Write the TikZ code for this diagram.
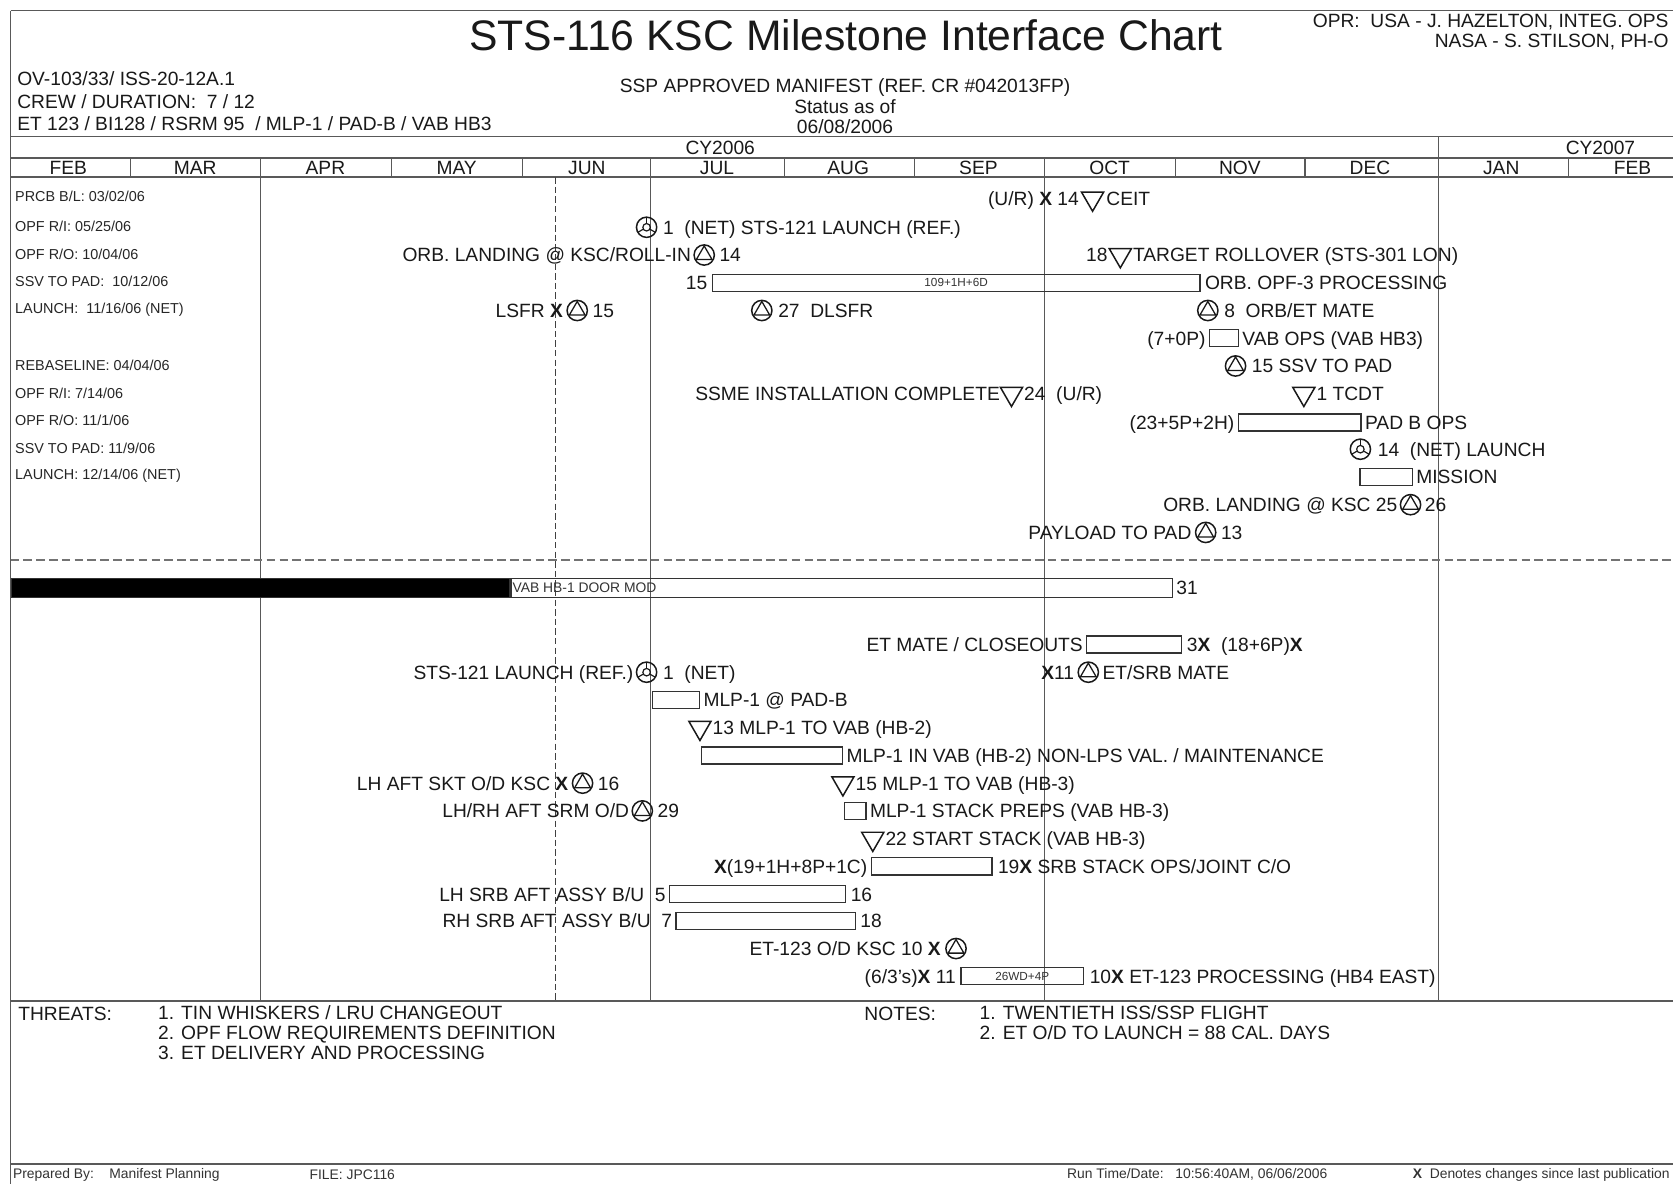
\documentclass[tikz,border=0pt]{standalone}
\usepackage{fontspec}
\setmainfont{Liberation Sans}
\usetikzlibrary{positioning,shapes.geometric}
\newcommand{\chgx}{\textbf{X}}

\begin{document}
\begin{tikzpicture}[x=1pt, y=-1pt]
\tikzset{
    LBL/.style={font=\fontsize{18}{18}\selectfont, inner sep=0pt,
                text height=13pt, text depth=0pt, text=black!90},
    SML/.style={font=\fontsize{13.5}{13.5}\selectfont, inner sep=0pt,
                anchor=west, text=black!85},
    HDR/.style={font=\fontsize{18}{19}\selectfont, inner sep=0pt, text=black!90},
    FTR/.style={font=\fontsize{13}{13}\selectfont, inner sep=0pt,
                anchor=west, text=black!80},
    TINY/.style={font=\fontsize{11}{11}\selectfont, inner sep=0pt, text=black!80},
    BAR/.style={draw=black!80, line width=1.2pt, minimum height=16pt,
                inner sep=0pt, anchor=west},
    GRD/.style={draw=black!65, line width=1.4pt},
    MS/.style={circle, draw=black!90, line width=1.4pt, minimum size=19pt,
               inner sep=0pt,
               path picture={\draw[line width=1.2pt]
                   (path picture bounding box.center) ++(0,8.5pt)
                   -- ++(-7.4pt,-12.8pt) -- ++(14.8pt,0) -- cycle;}},
    LCH/.style={circle, draw=black!90, line width=1.4pt, minimum size=19pt,
                inner sep=0pt,
                path picture={\draw[line width=1.1pt]
                   (path picture bounding box.center) circle (3.5pt);
                   \foreach \a in {90,210,330}
                     \draw[line width=1.1pt] (path picture bounding box.center)
                       ++(\a:3.5pt) -- ++(\a:6pt);}},
    TRI/.style={regular polygon, regular polygon sides=3,
                shape border rotate=180, draw=black!90, line width=1.4pt,
                minimum size=24pt, inner sep=0pt},
}

\useasboundingbox (0,0) rectangle (1568,1109);
\clip (0,0) rectangle (1568,1109);
\fill[white] (0,0) rectangle (1568,1109);

%── Frame and grid ─────────────────────────────────────────────
\draw[GRD] (10,10) -- (1590,10);
\draw[GRD] (10,10) -- (10,1120);
\draw[GRD] (10,128) -- (1590,128);
\draw[GRD] (10,148) -- (1590,148);
\draw[GRD] (10,166) -- (1590,166);
\draw[GRD] (10,938) -- (1590,938);
\draw[GRD] (10,1091) -- (1590,1091);
\foreach \m in {122,367,490,735,857,1102,1223,1470}
    \draw[GRD, line width=1.1pt] (\m,148) -- (\m,166);
\foreach \q in {244,610,979}
    \draw[GRD, line width=1.2pt] (\q,148) -- (\q,938);
\draw[GRD, line width=1.2pt] (1348,128) -- (1348,938);
\draw[black!75, line width=1.1pt, dash pattern=on 6pt off 3pt] (521,166) -- (521,938);   % status date
\draw[black!55, line width=1.3pt, dash pattern=on 8pt off 4pt] (10,525) -- (1590,525);

%── Header ─────────────────────────────────────────────────────
\node[font=\fontsize{40}{40}\selectfont, inner sep=0pt, text=black!90] (title) at (793,33)
    {STS-116 KSC Milestone Interface Chart};
\node[HDR, anchor=north east, align=right] (opr) at (1564,13)
    {OPR:\ \ USA - J. HAZELTON, INTEG. OPS\\NASA - S. STILSON, PH-O};
\node[HDR, anchor=west] (ov)   at (16,74)  {OV-103/33/ ISS-20-12A.1};
\node[HDR, anchor=west] (crew) at (16,95)  {CREW / DURATION:\ \ 7 / 12};
\node[HDR, anchor=west] (et)   at (16,116) {ET 123 / BI128 / RSRM 95\ \ / MLP-1 / PAD-B / VAB HB3};
\node[HDR] (ssp)    at (792,82)  {SSP APPROVED MANIFEST (REF. CR \#042013FP)};
\node[HDR] (status) at (792,100) {Status as of};
\node[HDR] (sdate)  at (792,119) {06/08/2006};
\node[HDR] (cy6) at (675,139)  {CY2006};
\node[HDR] (cy7) at (1500,139) {CY2007};
\foreach \mo/\x in {FEB/64,MAR/183,APR/305,MAY/428,JUN/550,JUL/672,AUG/795,
                    SEP/917,OCT/1040,NOV/1162,DEC/1284,JAN/1407,FEB/1530}
    \node[HDR] at (\x,157) {\mo};

%── Baseline dates ─────────────────────────────────────────────
\node[SML] (prcb)  at (14,184) {PRCB B/L: 03/02/06};
\node[SML] (opfri) at (14,212) {OPF R/I: 05/25/06};
\node[SML] (opfro) at (14,238) {OPF R/O: 10/04/06};
\node[SML] (ssv)   at (14,264) {SSV TO PAD:\ \ 10/12/06};
\node[SML] (lnch)  at (14,290) {LAUNCH:\ \ 11/16/06 (NET)};
\node[SML] (rebl)  at (14,342) {REBASELINE: 04/04/06};
\node[SML] (opfri2) at (14,369) {OPF R/I: 7/14/06};
\node[SML] (opfro2) at (14,394) {OPF R/O: 11/1/06};
\node[SML] (ssv2)  at (14,420) {SSV TO PAD: 11/9/06};
\node[SML] (lnch2) at (14,446) {LAUNCH: 12/14/06 (NET)};

%── Orbiter flow ───────────────────────────────────────────────
\node[TRI] (ceit) at (1024,186) {};
\node[LBL, left=5pt of ceit]  {(U/R) \chgx\ 14};
\node[LBL, right=5pt of ceit] {CEIT};

\node[LCH] (sts121) at (606,213) {};
\node[LBL, right=5pt of sts121] {1\ \ (NET) STS-121 LAUNCH (REF.)};

\node[MS] (rollin) at (660,239) {};
\node[LBL, left=2pt of rollin]  {ORB. LANDING @ KSC/ROLL-IN};
\node[LBL, right=4pt of rollin] {14};
\node[TRI] (rollover) at (1050,239) {};
\node[LBL, left=4pt of rollover]  {18};
\node[LBL, right=4pt of rollover] {TARGET ROLLOVER (STS-301 LON)};

\node[BAR, minimum width=457pt] (opf) at (667,265) {};
\node[TINY] at (opf.center) {109+1H+6D};
\node[LBL, left=4pt of opf]  {15};
\node[LBL, right=4pt of opf] {ORB. OPF-3 PROCESSING};

\node[MS] (lsfr) at (541,291) {};
\node[LBL, left=3pt of lsfr]  {LSFR \chgx};
\node[LBL, right=4pt of lsfr] {15};
\node[MS] (dlsfr) at (714,291) {};
\node[LBL, right=5pt of dlsfr] {27\ \ DLSFR};
\node[MS] (orbet) at (1132,291) {};
\node[LBL, right=5pt of orbet] {8\ \ ORB/ET MATE};

\node[BAR, minimum width=27pt] (vabops) at (1133,317) {};
\node[LBL, left=3pt of vabops]  {(7+0P)};
\node[LBL, right=3pt of vabops] {VAB OPS (VAB HB3)};

\node[MS] (ssvpad) at (1158,343) {};
\node[LBL, right=5pt of ssvpad] {15 SSV TO PAD};

\node[TRI] (ssme) at (948,369) {};
\node[LBL, left=3pt of ssme]  {SSME INSTALLATION COMPLETE};
\node[LBL, right=4pt of ssme] {24\ \ (U/R)};
\node[TRI] (tcdt) at (1222,369) {};
\node[LBL, right=4pt of tcdt] {1 TCDT};

\node[BAR, minimum width=115pt] (padops) at (1160,396) {};
\node[LBL, left=3pt of padops]  {(23+5P+2H)};
\node[LBL, right=3pt of padops] {PAD B OPS};

\node[LCH] (launch) at (1275,421) {};
\node[LBL, right=6pt of launch] {14\ \ (NET) LAUNCH};

\node[BAR, minimum width=49pt] (mission) at (1274,447) {};
\node[LBL, right=3pt of mission] {MISSION};

\node[MS] (landing) at (1322,473) {};
\node[LBL, left=2pt of landing]  {ORB. LANDING @ KSC 25};
\node[LBL, right=3pt of landing] {26};

\node[MS] (plpad) at (1130,499) {};
\node[LBL, left=3pt of plpad]  {PAYLOAD TO PAD};
\node[LBL, right=4pt of plpad] {13};

%── ET / SRB / MLP flow ────────────────────────────────────────
\node[BAR, fill=black, minimum width=467pt, minimum height=18pt] (doorblk) at (10,551) {};
\node[BAR, minimum width=620pt, minimum height=18pt] (doormod) at (doorblk.east) {};
\node[TINY, font=\fontsize{13}{13}\selectfont, anchor=west] at ([xshift=2pt]doormod.west) {VAB HB-1 DOOR MOD};
\node[LBL, right=3pt of doormod] {31};

\node[BAR, minimum width=89pt] (closeout) at (1018,604) {};
\node[LBL, left=3pt of closeout]  {ET MATE / CLOSEOUTS};
\node[LBL, right=4pt of closeout] {3\chgx\ \ (18+6P)\chgx};

\node[LCH] (sts121b) at (606,630) {};
\node[LBL, left=2pt of sts121b]  {STS-121 LAUNCH (REF.)};
\node[LBL, right=5pt of sts121b] {1\ \ (NET)};
\node[MS] (etsrb) at (1020,630) {};
\node[LBL, left=3pt of etsrb]  {\chgx 11};
\node[LBL, right=3pt of etsrb] {ET/SRB MATE};

\node[BAR, minimum width=44pt] (mlppad) at (611,656) {};
\node[LBL, right=3pt of mlppad] {MLP-1 @ PAD-B};

\node[TRI] (mlpvab2) at (656,682) {};
\node[LBL, right=4pt of mlpvab2] {13 MLP-1 TO VAB (HB-2)};

\node[BAR, minimum width=132pt] (mlpmaint) at (657,708) {};
\node[LBL, right=3pt of mlpmaint] {MLP-1 IN VAB (HB-2) NON-LPS VAL. / MAINTENANCE};

\node[MS] (sktod) at (546,734) {};
\node[LBL, left=3pt of sktod]  {LH AFT SKT O/D KSC \chgx};
\node[LBL, right=4pt of sktod] {16};
\node[TRI] (mlpvab3) at (790,734) {};
\node[LBL, right=4pt of mlpvab3] {15 MLP-1 TO VAB (HB-3)};

\node[MS] (srmod) at (602,760) {};
\node[LBL, left=2pt of srmod]  {LH/RH AFT SRM O/D};
\node[LBL, right=4pt of srmod] {29};
\node[BAR, minimum width=20pt] (stkprep) at (791,760) {};
\node[LBL, right=3pt of stkprep] {MLP-1 STACK PREPS (VAB HB-3)};

\node[TRI] (ststack) at (818,786) {};
\node[LBL, right=4pt of ststack] {22 START STACK (VAB HB-3)};

\node[BAR, minimum width=113pt] (srbops) at (816,812) {};
\node[LBL, left=3pt of srbops]  {\chgx(19+1H+8P+1C)};
\node[LBL, right=5pt of srbops] {19\chgx\ SRB STACK OPS/JOINT C/O};

\node[BAR, minimum width=165pt] (lhsrb) at (627,838) {};
\node[LBL, left=3pt of lhsrb]  {LH SRB AFT ASSY B/U\ \ 5};
\node[LBL, right=4pt of lhsrb] {16};

\node[BAR, minimum width=168pt] (rhsrb) at (633,863) {};
\node[LBL, left=3pt of rhsrb]  {RH SRB AFT ASSY B/U\ \ 7};
\node[LBL, right=4pt of rhsrb] {18};

\node[MS] (etod) at (896,889) {};
\node[LBL, left=4pt of etod] {ET-123 O/D KSC 10 \chgx};

\node[BAR, minimum width=115pt] (etproc) at (900,915) {};
\node[TINY] at (etproc.center) {26WD+4P};
\node[LBL, left=4pt of etproc]  {(6/3's)\chgx\ 11};
\node[LBL, right=5pt of etproc] {10\chgx\ ET-123 PROCESSING (HB4 EAST)};

%── Threats / notes ────────────────────────────────────────────
\node[HDR, anchor=west] (thr) at (17,950) {THREATS:};
\node[HDR, anchor=north west, align=left] (thrlist) at (148,942)
    {1. TIN WHISKERS / LRU CHANGEOUT\\2. OPF FLOW REQUIREMENTS DEFINITION\\3. ET DELIVERY AND PROCESSING};
\node[HDR, anchor=west] (nts) at (810,950) {NOTES:};
\node[HDR, anchor=north west, align=left] (ntslist) at (918,942)
    {1. TWENTIETH ISS/SSP FLIGHT\\2. ET O/D TO LAUNCH = 88 CAL. DAYS};

%── Footer ─────────────────────────────────────────────────────
\node[FTR] (prep) at (12,1101)   {Prepared By:\ \ \ \ Manifest Planning};
\node[FTR] (file) at (290,1101)  {FILE: JPC116};
\node[FTR] (run)  at (1000,1101) {Run Time/Date:\ \ \ 10:56:40AM, 06/06/2006};
\node[FTR, anchor=east] (chg) at (1565,1101) {\chgx\ \ Denotes changes since last publication};

\end{tikzpicture}
\end{document}
